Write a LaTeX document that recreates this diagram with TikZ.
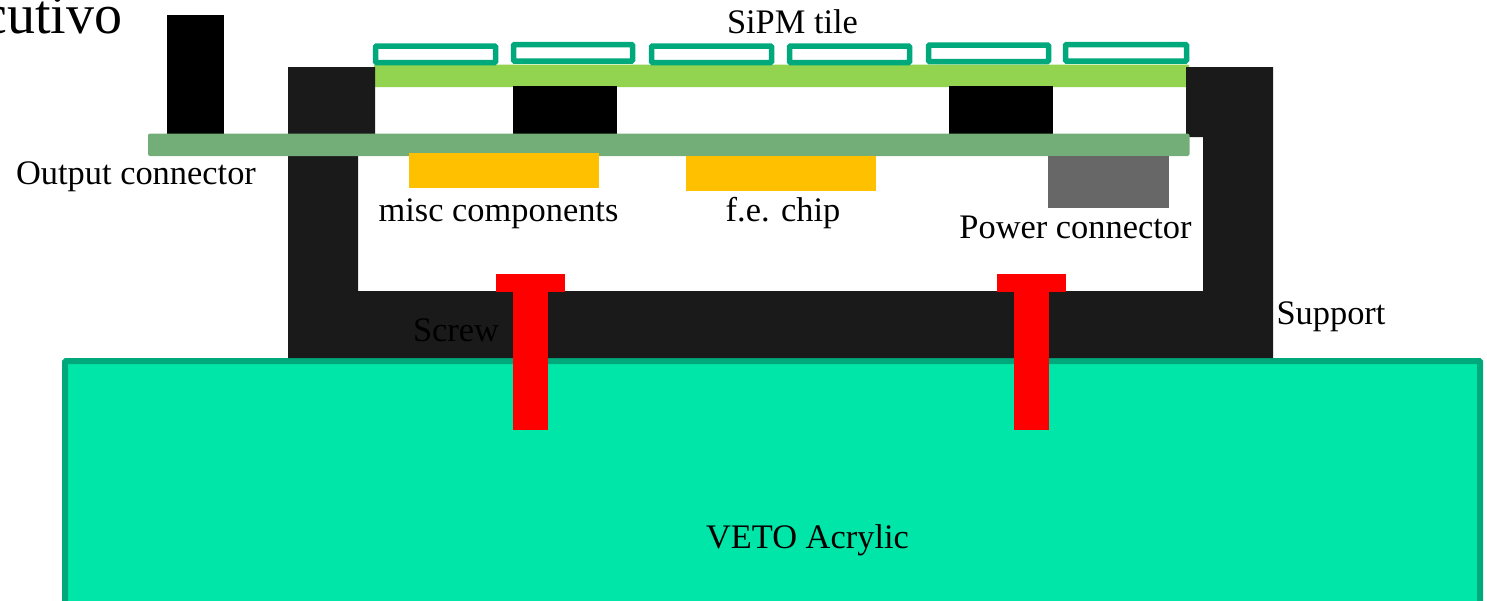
\documentclass[tikz,border=0pt]{standalone}
\usepackage{fontspec}
\setmainfont{Liberation Serif}
\definecolor{acrylicedge}{HTML}{00A97B}
\definecolor{acrylic}{HTML}{00E6A8}
\definecolor{sipm}{HTML}{92D34F}
\definecolor{pcb}{HTML}{73AE78}
\definecolor{support}{HTML}{1A1A1A}
\definecolor{chip}{HTML}{FFC000}
\definecolor{powerc}{HTML}{676767}
\tikzset{
  lbl/.style={inner sep=0pt,anchor=base,font=\fontsize{34.4}{34.4}\selectfont,text=black},
  tile/.style={draw=acrylicedge,line width=5.5pt,fill=white,rounded corners=1pt},
  solid block/.style={fill=black},
  chipbox/.style={fill=chip},
  screw/.style={fill=red}
}
\begin{document}
\begin{tikzpicture}[x=1pt,y=-1pt]
\useasboundingbox (0,0) rectangle (1487,600);
\begin{scope}
\clip (0,0) rectangle (1487,600);
% acrylic
\draw[draw=acrylicedge,fill=acrylic,line width=6pt,rounded corners=1pt] (65,361) rectangle (1480,640);
% SiPM board
\fill[sipm,rounded corners=1pt] (374,64.5) rectangle (1189,87);
% support
\fill[support] (288,67) -- (375,67) -- (375,136) -- (358,136) -- (358,291) -- (1203,291) -- (1203,137) -- (1186,137) -- (1186,67) -- (1273,67) -- (1273,358) -- (288,358) -- cycle;
% tiles
\draw[tile] (375.5,46) rectangle (495.5,62.5);
\draw[tile] (513.5,44.5) rectangle (632.5,61);
\draw[tile] (651.5,46) rectangle (771.5,62.5);
\draw[tile] (789.5,46) rectangle (909.5,62.5);
\draw[tile] (928.5,45) rectangle (1048.5,61.5);
\draw[tile] (1065.5,44.5) rectangle (1186.5,61);
% spacers and connector
\fill[solid block] (513,86) rectangle (617,134);
\fill[solid block] (949,86) rectangle (1053,134);
\fill[solid block] (167,15) rectangle (224,134);
% pcb
\fill[pcb,rounded corners=2pt] (148,133.5) rectangle (1189.5,156);
% components
\fill[chipbox] (409,153) rectangle (599,188);
\fill[chipbox] (686,156) rectangle (876,191);
\fill[powerc] (1048,156) rectangle (1169,208);
% screws
\fill[screw] (496,274) rectangle (565,292);
\fill[screw] (513,292) rectangle (548,430);
\fill[screw] (997,274) rectangle (1066,292);
\fill[screw] (1014,292) rectangle (1049,430);
% labels
\node[lbl] (title) at (792.5,33.5) {SiPM tile};
\node[lbl] (out) at (136,184.5) {Output connector};
\node[lbl] (misc) at (498.5,221.5) {misc components};
\node[lbl] (fe) at (783,221.5) {f.e. chip};
\node[lbl] (pow) at (1075.5,238.5) {Power connector};
\node[lbl] (sup) at (1331,324.5) {Support};
\node[lbl] (scr) at (456,341.5) {Screw};
\node[lbl] (veto) at (807.5,548.5) {VETO Acrylic};
\node[lbl,anchor=base east,font=\fontsize{56}{56}\selectfont] (cut) at (122.5,33) {cutivo};
\end{scope}
\end{tikzpicture}
\end{document}
